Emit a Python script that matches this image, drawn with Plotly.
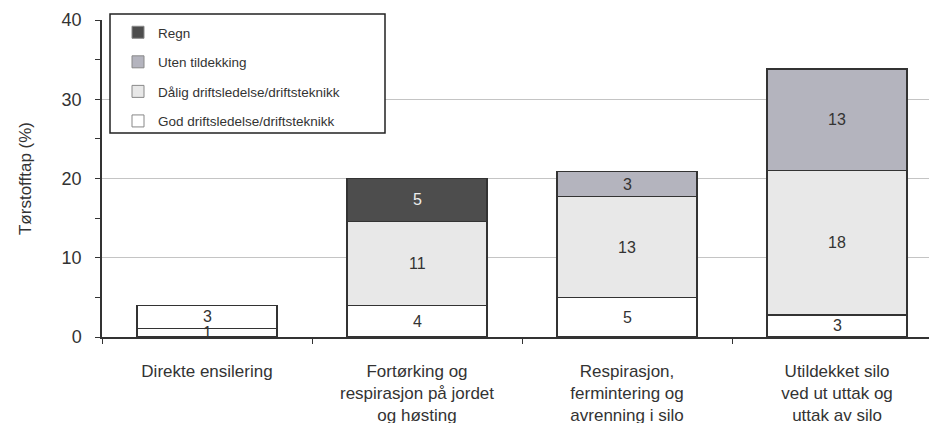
import plotly.graph_objects as go

categories = [
    "Direkte ensilering",
    "Fortørking og<br>respirasjon på jordet<br>og høsting",
    "Respirasjon,<br>fermintering og<br>avrenning i silo",
    "Utildekket silo<br>ved ut uttak og<br>uttak av silo",
]
god = [1.1, 4.0, 5.0, 2.8]
daarlig = [2.9, 10.6, 12.7, 18.2]
uten = [0, 0, 3.2, 12.8]
regn = [0, 5.4, 0, 0]

series_names = [
    "God driftsledelse/driftsteknikk",
    "Dålig driftsledelse/driftsteknikk",
    "Uten tildekking",
    "Regn",
]

FONT = "Liberation Sans, Arial, sans-serif"
TXT = "#333333"
LINE = "#333333"

base_colors = {"god": "#ffffff", "daarlig": "#e8e8e8", "uten": "#b4b4be", "regn": "#4d4d4d"}
point_colors = {
    "god": ["#ffffff"] * 4,
    "daarlig": ["#ffffff", "#e8e8e8", "#e8e8e8", "#e8e8e8"],
    "uten": ["#b4b4be"] * 4,
    "regn": ["#4d4d4d"] * 4,
}

# page body has an 8px offset; figure sized/margined to compensate
ML, MT, MB = 94, 12, 86
W, H = 929, 415
PW, PH = W - ML, H - MT - MB

fig = go.Figure()
specs = [
    ("god", god, series_names[0], TXT, 4),
    ("daarlig", daarlig, series_names[1], TXT, 3),
    ("uten", uten, series_names[2], TXT, 2),
    ("regn", regn, series_names[3], "#eeeeee", 1),
]
annotations = []
cum = [0.0] * len(categories)
for key, vals, name, tcol, rank in specs:
    fig.add_trace(go.Bar(
        x=categories, y=vals, name=name, legendgroup=key, showlegend=False,
        marker=dict(color=point_colors[key], line=dict(color=LINE, width=1.5)),
        hoverinfo="skip",
    ))
    for i, v in enumerate(vals):
        if v > 0:
            annotations.append(dict(
                x=categories[i], y=cum[i] + v / 2, xref="x", yref="y",
                text=f"{v:.0f}", showarrow=False,
                font=dict(family=FONT, size=16, color=tcol),
            ))
        cum[i] += v
# legend entries
for key, vals, name, tcol, rank in specs:
    fig.add_trace(go.Bar(
        x=[categories[0]], y=[None], name=name, legendgroup=key, showlegend=True,
        legendrank=rank,
        marker=dict(color=base_colors[key], line=dict(color="#888888", width=1)),
        hoverinfo="skip",
    ))

fig.update_layout(
    width=W, height=H,
    margin=dict(l=ML, r=0, t=MT, b=MB),
    barmode="stack", bargap=0.333,
    plot_bgcolor="white", paper_bgcolor="white",
    font=dict(family=FONT, color=TXT),
    showlegend=True,
    annotations=annotations,
    legend=dict(
        x=(118 - 102) / PW, y=1 + 3 / PH, xanchor="left", yanchor="top",
        traceorder="grouped", tracegroupgap=9,
        bgcolor="rgba(0,0,0,0)", borderwidth=0,
        font=dict(family=FONT, size=13.5, color=TXT),
    ),
    xaxis=dict(
        range=[-0.5, 3.476], showgrid=False, automargin=False,
        showline=True, linecolor=LINE, linewidth=1.5,
        ticks="outside", tickson="boundaries", ticklen=5, tickcolor=LINE,
        tickfont=dict(family=FONT, size=17, color=TXT),
        ticklabelstandoff=18,
    ),
    yaxis=dict(
        range=[0, 40], dtick=10, showgrid=True, gridcolor="#c4c4c4", gridwidth=1,
        showline=True, linecolor=LINE, linewidth=1.5, zeroline=False, automargin=False,
        ticks="outside", ticklen=5, tickcolor=LINE,
        minor=dict(dtick=5, ticks="outside", ticklen=5, tickcolor=LINE, showgrid=False),
        tickfont=dict(family=FONT, size=18, color=TXT),
        ticklabelstandoff=10,
        title=dict(text="Tørstofftap (%)", font=dict(family=FONT, size=17, color=TXT), standoff=26),
    ),
    shapes=[dict(
        type="rect", xref="paper", yref="paper",
        x0=(110 - 102) / PW, x1=(385 - 102) / PW,
        y0=1 - (133 - 20) / PH, y1=1 + (20 - 14) / PH,
        fillcolor="white", line=dict(color="#222222", width=1.5), layer="above",
    )],
)

fig.write_html("out.html")
